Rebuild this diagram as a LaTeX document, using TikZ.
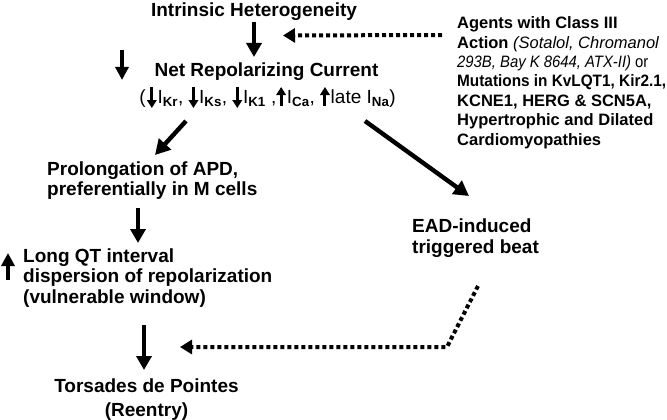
\documentclass[tikz,border=0pt]{standalone}
\usepackage{fontspec}
\usepackage{graphicx}
\setmainfont{Liberation Sans}
\usetikzlibrary{arrows.meta}
\newcommand\dnar{\tikz[baseline=0pt]{\path(-4.5pt,0pt)(4.5pt,0pt);\draw[line width=3pt,-{Triangle[length=8pt,width=9.5pt]}](0pt,16pt)--(0pt,-5pt);}}
\newcommand\upar{\tikz[baseline=0pt]{\path(-4.5pt,0pt)(4.5pt,0pt);\draw[line width=3pt,-{Triangle[length=8pt,width=9.5pt]}](0pt,-3pt)--(0pt,16pt);}}
\newcommand\subb[1]{\textsubscript{\bfseries #1}}
\begin{document}
\begin{tikzpicture}[x=1pt,y=-1pt,
  ltxt/.style={font=\fontsize{19}{20.3}\selectfont\bfseries, inner sep=0pt, align=left},
  ctxt/.style={font=\fontsize{19}{20.3}\selectfont\bfseries, inner sep=0pt, align=center},
  rtxt/.style={font=\fontsize{16.5}{19.4}\selectfont\bfseries, inner sep=0pt, align=left},
  bigarrow/.style={line width=3.6pt, -{Triangle[length=14pt,width=15pt]}},
  diagarrow/.style={line width=4.4pt, -{Triangle[length=15pt,width=16pt]}},
  markarrow/.style={line width=3.4pt, -{Triangle[length=13pt,width=13pt]}},
  dotarrow/.style={line width=4pt, dash pattern=on 4pt off 3pt, -{Triangle[length=12pt,width=14pt]}}]
\useasboundingbox (0,0) rectangle (667,420);
\fill[white] (0,0) rectangle (667,420);

% (multi-line nodes: base anchor = baseline of the last line)
\node[ctxt, anchor=base] (intr) at (254,16.5) {Intrinsic Heterogeneity};
\node[ctxt, anchor=base] (net) at (266.5,77) {Net Repolarizing Current};
\node[ctxt, anchor=base, font=\fontsize{19}{20.3}\selectfont\mdseries] (cur) at (267.5,103)
  {(\hspace{1.5pt}\dnar\hspace{1pt}I\subb{Kr}, \dnar\hspace{1pt}I\subb{Ks}, \dnar\hspace{1pt}I\subb{K1} ,\upar\hspace{1pt}I\subb{Ca}, \upar\hspace{1pt}late I\subb{Na})};
\node[rtxt, anchor=base west] (agents) at (457,145)
  {Agents with Class III\\
   Action {\mdseries\itshape (Sotalol, Chromanol}\\
   \scalebox{0.9}[1]{{\mdseries\itshape 293B, Bay K 8644, ATX-II)} {\mdseries or}}\\
   \scalebox{0.93}[1]{Mutations in KvLQT1, Kir2.1,}\\
   KCNE1, HERG \& SCN5A,\\
   Hypertrophic and Dilated\\
   Cardiomyopathies};
\node[ltxt, anchor=base west] (prol) at (47,195.5) {Prolongation of APD,\\preferentially in M cells};
\node[ltxt, anchor=base west] (ead) at (412,253) {EAD-induced\\triggered beat};
\node[ltxt, anchor=base west] (lqt) at (23,303) {Long QT interval\\dispersion of repolarization\\(vulnerable window)};
\node[ctxt, anchor=base] (tdp) at (146.5,416) {Torsades de Pointes\\[3pt](Reentry)};

% connectors
\draw[bigarrow] ([shift={(0,5.5)}]intr.base) -- ([shift={(0,40.5)}]intr.base);
\coordinate (dtip) at ([shift={(29,19)}]intr.base);
\draw[dotarrow] ([shift={(-15,-110)}]agents.base west) -- (dtip);
\draw[markarrow] ([shift={(-144.5,-27)}]net.base) -- ([shift={(-144.5,3)}]net.base);
\draw[diagarrow] ([shift={(-81.5,18)}]cur.base) -- ([shift={(108,-40.5)}]prol.base west);
\draw[diagarrow] ([shift={(97.5,18)}]cur.base) -- ([shift={(57,-57)}]ead.base west);
\draw[bigarrow] ([shift={(91,12.5)}]prol.base west) -- ([shift={(115,-60)}]lqt.base west);
\draw[markarrow] ([shift={(-15,-23)}]lqt.base west) -- ([shift={(-15,-50)}]lqt.base west);
\draw[bigarrow] ([shift={(121,22)}]lqt.base west) -- ([shift={(-2.5,-46)}]tdp.base);
\coordinate (corner) at ([shift={(35,94)}]ead.base west);
\draw[dotarrow] ([shift={(66,33)}]ead.base west) -- (corner) -- ([shift={(33.5,-69)}]tdp.base);
\end{tikzpicture}
\end{document}
